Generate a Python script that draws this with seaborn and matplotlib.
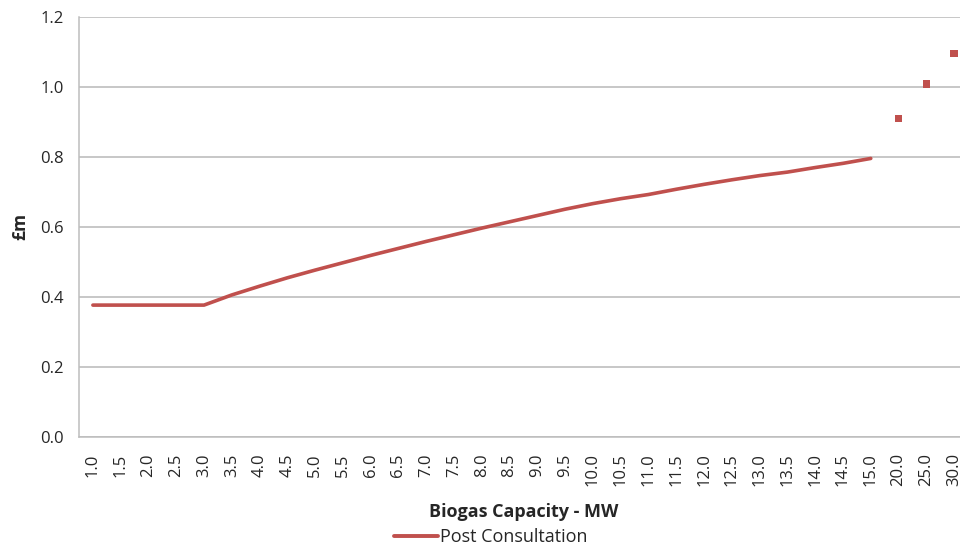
import matplotlib
matplotlib.use("Agg")
import matplotlib.pyplot as plt
import seaborn as sns
import pandas as pd
import numpy as np

categories = ["1.0", "1.5", "2.0", "2.5", "3.0", "3.5", "4.0", "4.5", "5.0", "5.5",
              "6.0", "6.5", "7.0", "7.5", "8.0", "8.5", "9.0", "9.5", "10.0", "10.5",
              "11.0", "11.5", "12.0", "12.5", "13.0", "13.5", "14.0", "14.5", "15.0",
              "20.0", "25.0", "30.0"]
line_values = [0.376, 0.376, 0.376, 0.376, 0.376, 0.405, 0.430, 0.454, 0.476, 0.497,
               0.518, 0.538, 0.558, 0.577, 0.596, 0.614, 0.632, 0.650, 0.666, 0.680,
               0.692, 0.707, 0.721, 0.734, 0.746, 0.756, 0.769, 0.781, 0.795]
marker_categories = ["20.0", "25.0", "30.0"]
marker_values = [0.909, 1.007, 1.095]
series_name = "Post Consultation"
y_ticks = [0.0, 0.2, 0.4, 0.6, 0.8, 1.0, 1.2]

sns.set_style("white")
plt.rcParams["font.family"] = ["Open Sans", "DejaVu Sans"]

color = "#C0504D"
grid_color = "#BDBDBD"

fig = plt.figure(figsize=(9.6, 5.51), dpi=100)
ax = fig.add_axes([79 / 960, (551 - 436.7) / 551, (968 - 79) / 960, (436.7 - 16.7) / 551])

pos = {c: i for i, c in enumerate(categories)}
df_line = pd.DataFrame({"x": [pos[c] for c in categories[:len(line_values)]], "y": line_values})
df_mark = pd.DataFrame({"x": [pos[c] for c in marker_categories], "y": marker_values})

sns.lineplot(data=df_line, x="x", y="y", ax=ax, color=color, linewidth=2.6,
             label=series_name, legend=False, zorder=3, solid_capstyle="round")
sns.scatterplot(data=df_mark, x="x", y="y", ax=ax, color=color, marker="s", s=30,
                edgecolor="none", legend=False, zorder=3)

ax.set_xlim(-0.5, len(categories) - 0.5)
ax.set_ylim(0, 1.2)
ax.set_yticks(y_ticks)
ax.set_yticklabels([f"{v:.1f}" for v in y_ticks], fontsize=12)
ax.yaxis.grid(True, color=grid_color, linewidth=1.2)
ax.set_axisbelow(True)

ax.set_xticks(range(len(categories)))
ax.set_xticklabels(categories, rotation=90, fontsize=12)
ax.set_xticks(np.arange(-0.5, len(categories), 1.0), minor=True)
ax.tick_params(axis="x", which="major", length=0, pad=12)
ax.tick_params(axis="x", which="minor", length=5, color=grid_color, width=1.1, direction="out")
ax.tick_params(axis="y", which="major", length=6, color=grid_color, width=1.1, direction="out", pad=5)

for s in ["top", "right"]:
    ax.spines[s].set_visible(False)
for s in ["left", "bottom"]:
    ax.spines[s].set_color(grid_color)
    ax.spines[s].set_linewidth(1.1)

ax.set_xlabel("Biogas Capacity - MW", fontsize=13, fontweight="bold", labelpad=12)
ax.set_ylabel("£m", fontsize=12.5, fontweight="bold", labelpad=8)

handles = [plt.Line2D([0], [0], color=color, linewidth=2.8)]
fig.legend(handles, [series_name], loc="center", bbox_to_anchor=(491 / 960, 1 - 537 / 551),
           frameon=False, fontsize=13, handlelength=2.4, handletextpad=0.15, borderaxespad=0)

fig.savefig("out.png", dpi=100)
